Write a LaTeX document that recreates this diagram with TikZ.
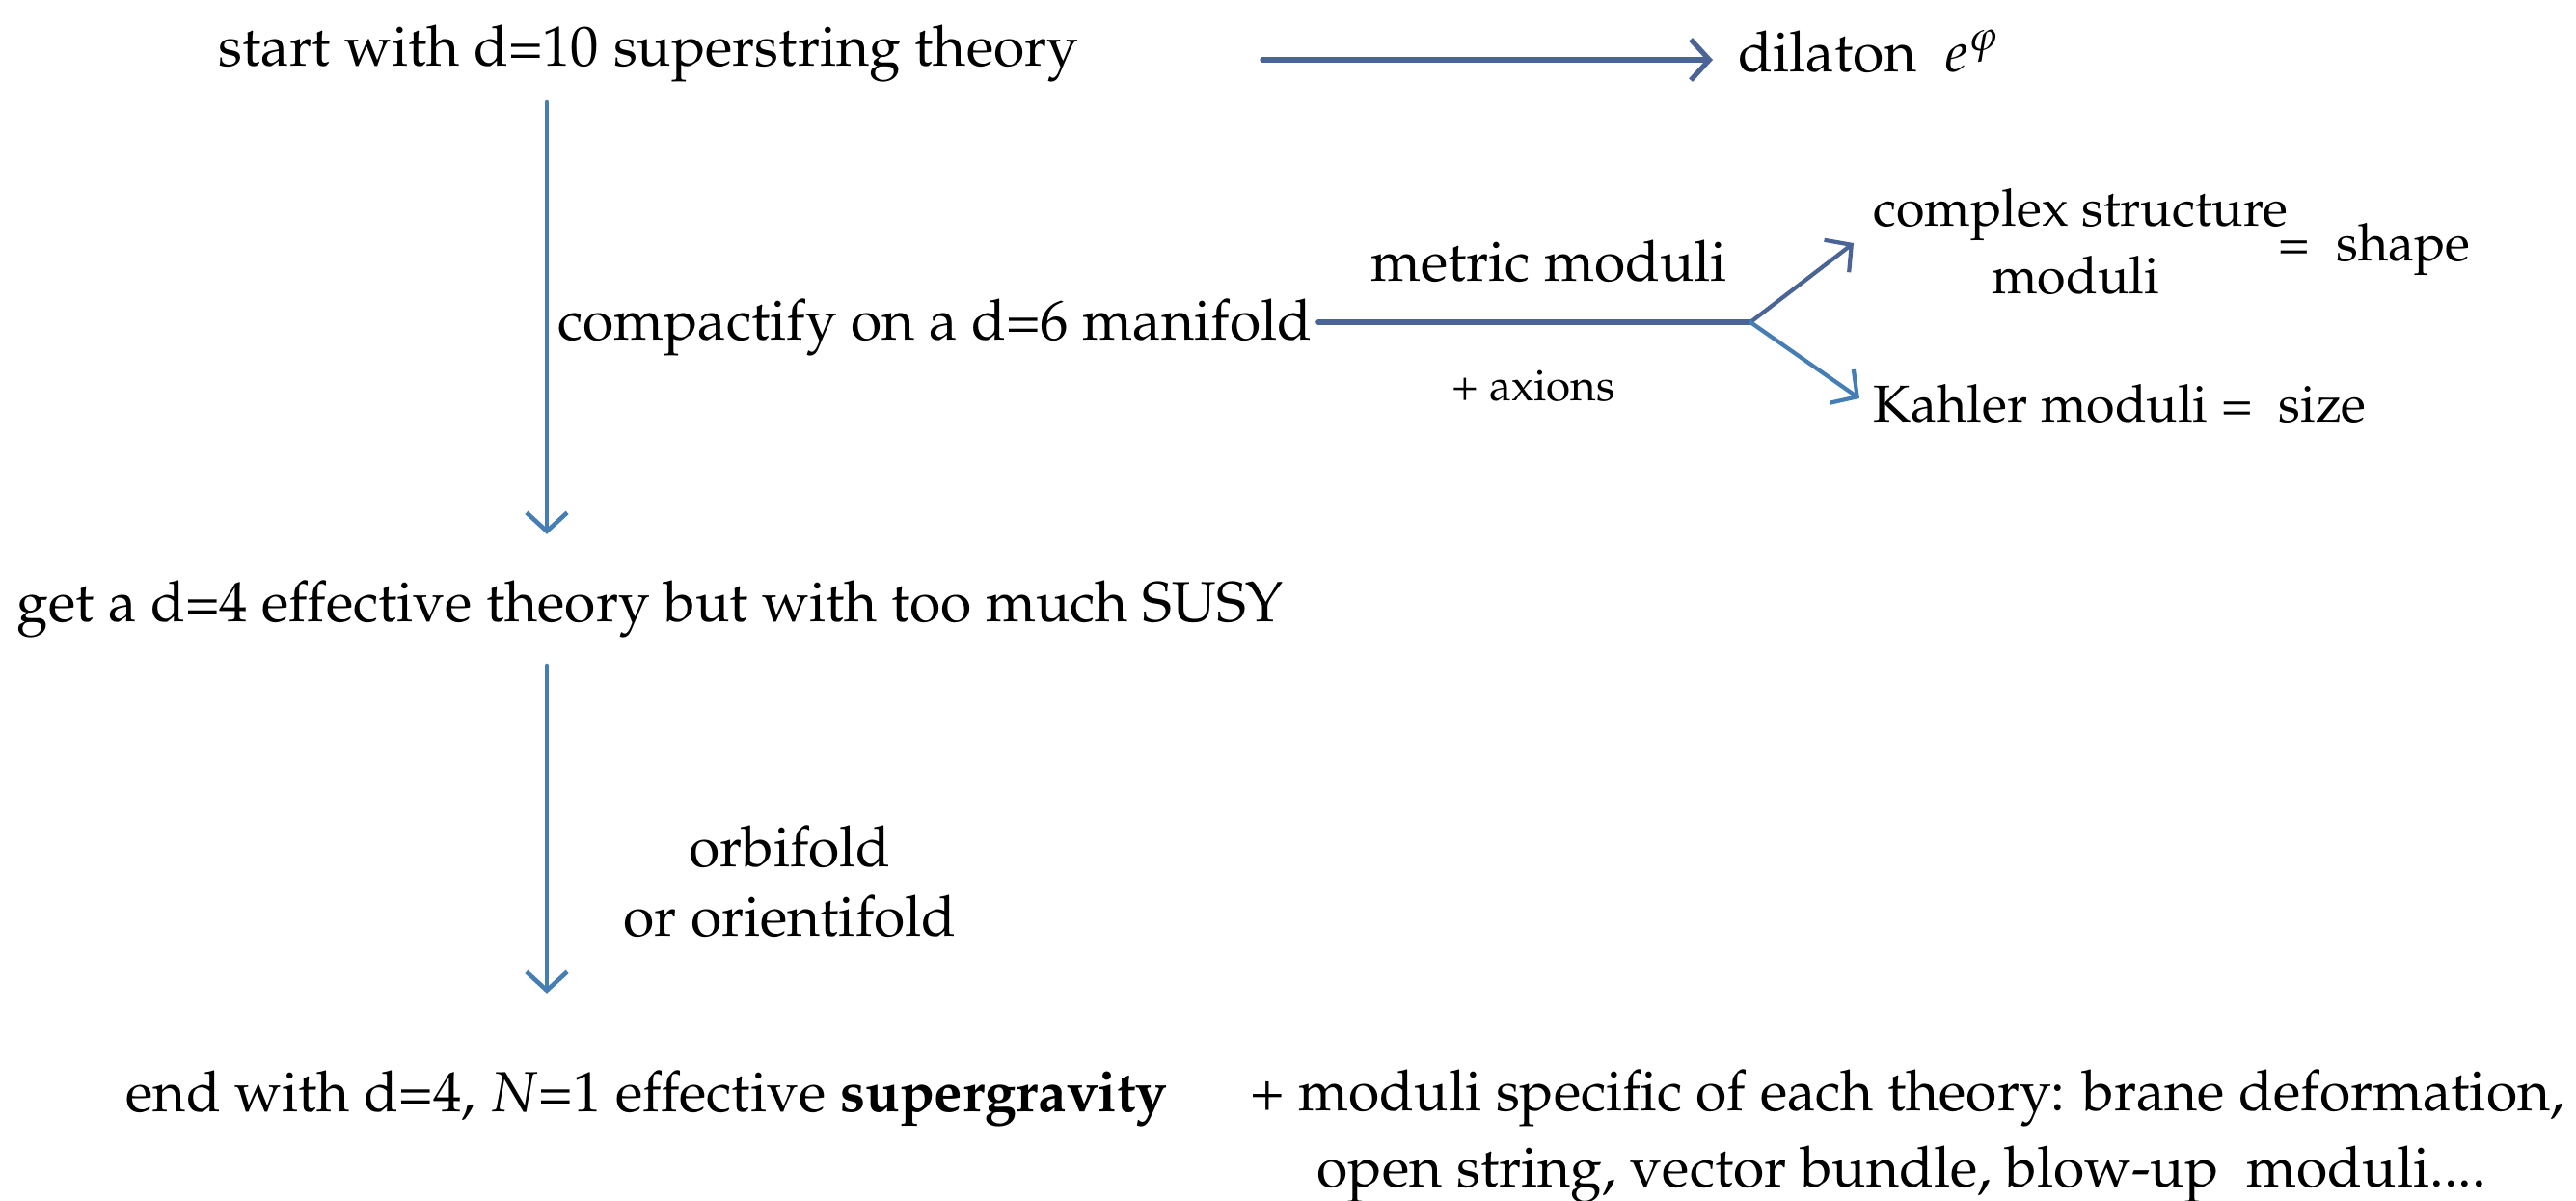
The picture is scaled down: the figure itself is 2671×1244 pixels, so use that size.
\documentclass[tikz,border=0pt]{standalone}
\usepackage{amsmath,amssymb}
\usepackage[T1]{fontenc}
\usepackage{mathpazo}
\usepackage{xcolor}
\usetikzlibrary{arrows.meta,calc}

\definecolor{inkdark}{RGB}{75,100,150}
\definecolor{inkblue}{RGB}{70,125,180}

\begin{document}
\begin{tikzpicture}[x=0.01cm,y=-0.01cm,>={Straight Barb[length=5.5pt,width=12pt]},line join=round,line cap=round,
  txt/.style={inner sep=0pt,font=\fontsize{16.7}{20}\selectfont},
  rtxt/.style={inner sep=0pt,font=\fontsize{15.3}{18}\selectfont},
  small/.style={inner sep=0pt,font=\fontsize{13}{15}\selectfont},
  flow/.style={->,line width=1.3pt,inkblue},
  flowdark/.style={->,line width=1.5pt,inkdark}]
  \useasboundingbox (0,0) rectangle (2671,1244);
  % text
  \node[txt,anchor=base west] (start) at (226,68) {start with d=10 superstring theory};
  \node[txt,anchor=base west] (dil) at (1802,74) {dilaton \ $e^{\varphi}$};
  \node[txt,anchor=base west] (comp) at (578,352) {compactify on a d=6 manifold};
  \node[txt,anchor=base] (metric) at (1606,291) {metric moduli};
  \node[small,anchor=base] (axions) at (1590,415) {+ axions};
  \node[rtxt,anchor=base west] (cs) at (1942,234) {complex structure};
  \node[rtxt,anchor=base] (csmod) at (2152,304) {moduli};
  \node[rtxt,anchor=base west] (shape) at (2362,270) {= \ shape};
  \node[rtxt,anchor=base west] (kahler) at (1942,437) {Kahler moduli = \ size};
  \node[txt,anchor=base west] (get4) at (17,644) {get a d=4 effective theory but with too much SUSY};
  \node[txt,anchor=base] (orbi) at (819,898) {orbifold};
  \node[txt,anchor=base] (orient) at (819,970) {or orientifold};
  \node[txt,anchor=base west] (sugra) at (130,1152) {end with d=4, $N$=1 effective \textbf{supergravity}};
  \node[txt,anchor=base west] (extra) at (1296,1151) {+ moduli specific of each theory: brane deformation,};
  \node[txt,anchor=base] (extra2) at (1972,1230) {open string, vector bundle, blow-up \ moduli....};
  % connectors
  \coordinate (A0) at (567,106);
  \coordinate (A1) at (567,690);
  \coordinate (F) at (1815,334);
  \draw[flowdark] ($(start.base east)+(190,-6)$) -- ($(start.base east -| dil.west)+(-26,-6)$);
  \draw[flow] (A0) -- ($(get4.north -| A0)+(0,-47)$);
  \draw[flow] (A1) -- ($(sugra.north -| A1)+(0,-79)$);
  \draw[line width=1.5pt,inkdark] ($(comp.east |- F)+(6,0)$) -- (F);
  \draw[flowdark,line width=1.2pt] (F) -- ($(cs.base west)+(-20,18)$);
  \draw[flow,line width=1.2pt] (F) -- ($(kahler.base west)+(-14,-24)$);
\end{tikzpicture}
\end{document}
